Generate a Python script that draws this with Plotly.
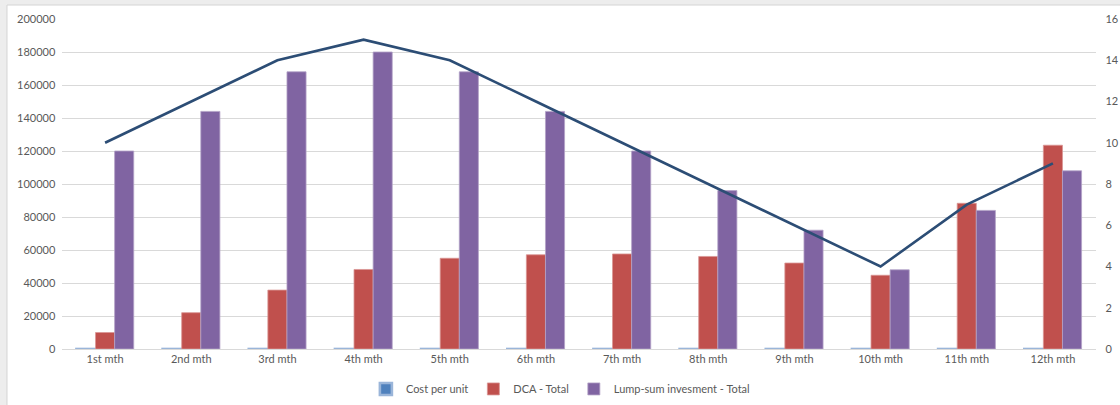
import plotly.graph_objects as go

months = ["1st mth", "2nd mth", "3rd mth", "4th mth", "5th mth", "6th mth",
          "7th mth", "8th mth", "9th mth", "10th mth", "11th mth", "12th mth"]
cost_per_unit = [10, 12, 14, 15, 14, 12, 10, 8, 6, 4, 7, 9]
dca_total = [10000, 22000, 35700, 48200, 55000, 57100, 57600, 56100, 52100, 44700, 88300, 123500]
lump_sum_total = [120000, 144000, 168000, 180000, 168000, 144000, 120000, 96000, 72000, 48000, 84000, 108000]

font_family = "Lato, 'Open Sans', sans-serif"
text_color = "#595959"
grid_color = "#D9D9D9"

fig = go.Figure()
fig.add_trace(go.Bar(
    x=months, y=cost_per_unit, name="Cost per unit",
    marker=dict(color="#4F81BD", line=dict(color="#9AB5D9", width=2.6)),
))
fig.add_trace(go.Bar(
    x=months, y=dca_total, name="DCA - Total",
    marker=dict(color="#C0504D", line=dict(color="#D99694", width=0.8)),
))
fig.add_trace(go.Bar(
    x=months, y=lump_sum_total, name="Lump-sum invesment - Total",
    marker=dict(color="#8064A2", line=dict(color="#B3A2C7", width=0.8)),
))
fig.add_trace(go.Scatter(
    x=months, y=cost_per_unit, name="Cost per unit (line)", yaxis="y2",
    mode="lines", line=dict(color="#2C4D75", width=2.6), showlegend=False,
))

# white chart area with gray outer border (left/top)
fig.add_shape(type="rect", xref="paper", yref="paper",
              x0=-0.0532, x1=1.03, y0=-0.2, y1=1.0424,
              fillcolor="white", line=dict(color="#D4D4D4", width=1), layer="below")

fig.update_layout(
    width=1120, height=405,
    margin=dict(l=62, r=24, t=19, b=56, autoexpand=False),
    paper_bgcolor="#EDEDED",
    plot_bgcolor="white",
    barmode="group",
    bargap=0.335,
    bargroupgap=0,
    font=dict(family=font_family, size=11, color=text_color),
    xaxis=dict(showgrid=False, showline=True, linecolor=grid_color, linewidth=1,
               ticks="", tickfont=dict(size=11, color=text_color)),
    yaxis=dict(range=[0, 200000], dtick=20000, showgrid=True, gridcolor=grid_color,
               gridwidth=1, zeroline=False, showline=False, ticks="",
               tickformat="d", ticksuffix="  ", tickfont=dict(size=11, color=text_color)),
    yaxis2=dict(range=[0, 16], dtick=2, overlaying="y", side="right", showgrid=False,
                zeroline=False, showline=False, ticks="", tickprefix="   ",
                tickfont=dict(size=11, color=text_color)),
    legend=dict(orientation="h", x=0.482, xanchor="center", y=-0.121, yanchor="middle",
                font=dict(size=11, color=text_color), bgcolor="rgba(0,0,0,0)",
                itemwidth=30, traceorder="normal"),
)

fig.write_html("out.html", config={"displayModeBar": False},
               post_script="document.body.style.margin='0';document.body.style.overflow='hidden';")
